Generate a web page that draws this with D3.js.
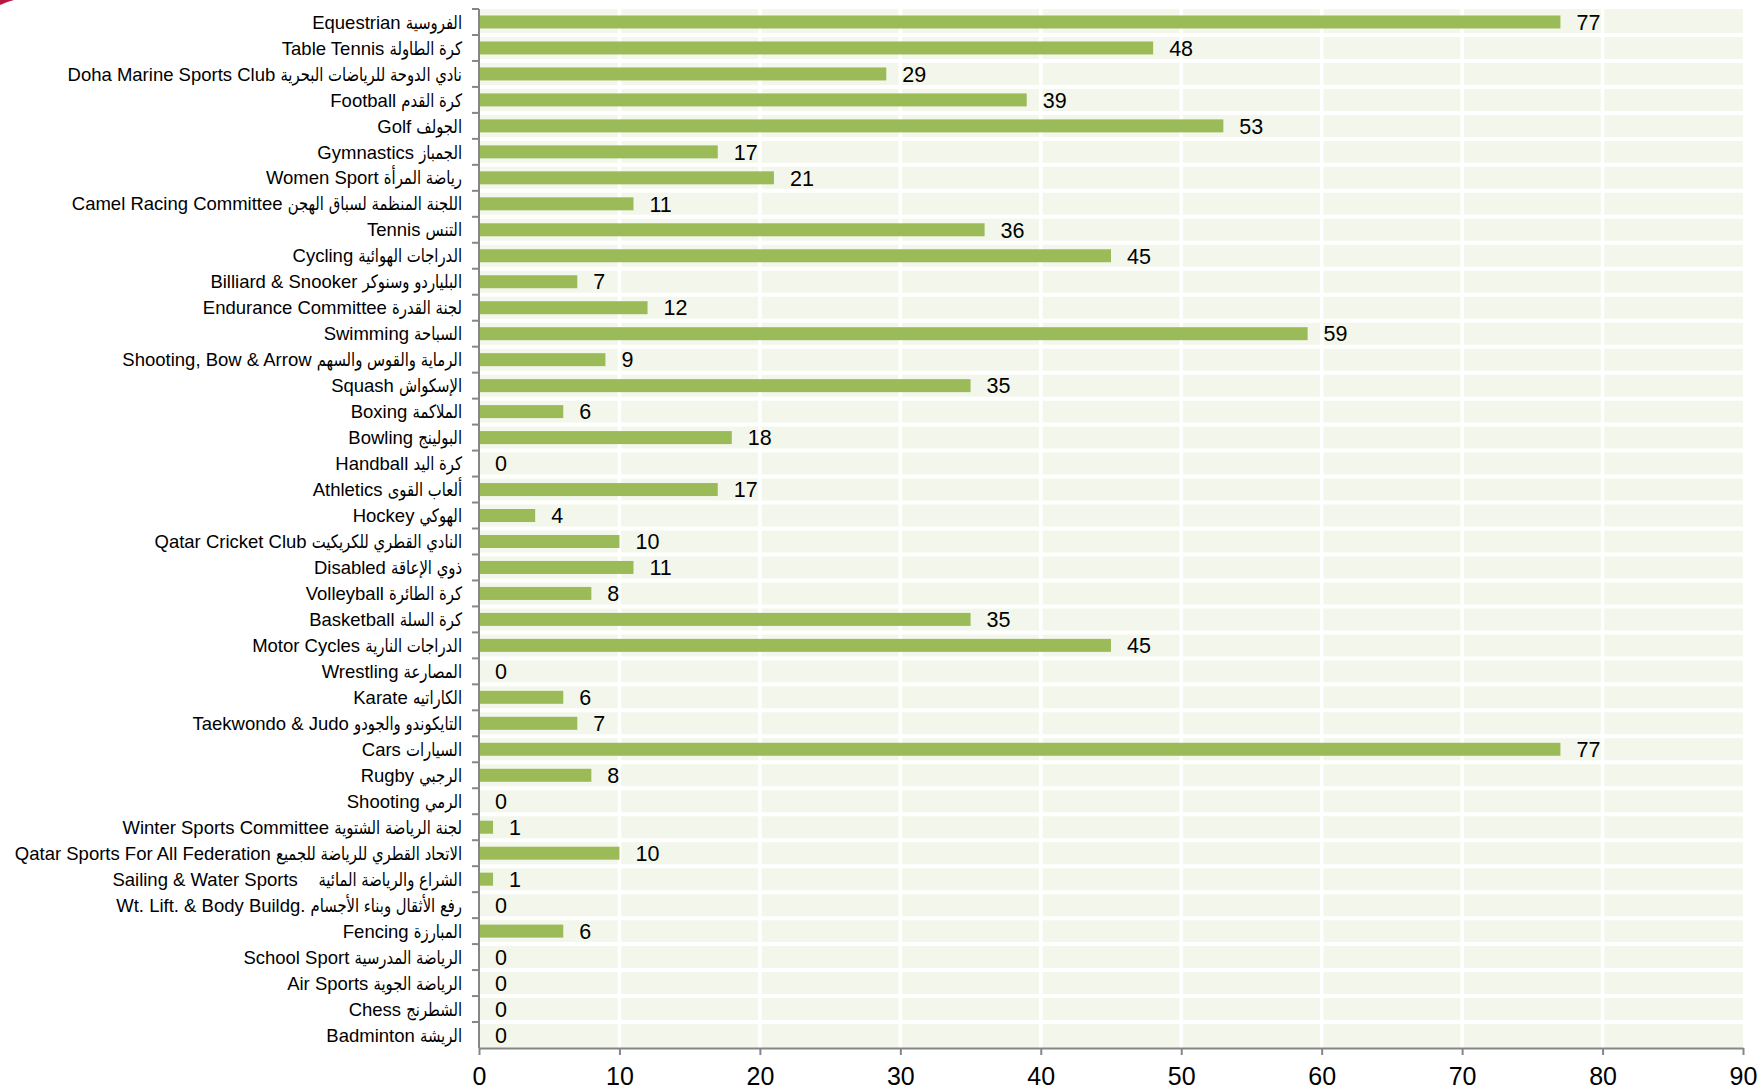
<!DOCTYPE html>
<html>
<head>
<meta charset="utf-8">
<script src="https://cdn.jsdelivr.net/npm/d3@7/dist/d3.min.js"></script>
<style>
  html, body { margin: 0; padding: 0; background: #ffffff; }
  svg { display: block; }
  text { font-family: "Liberation Sans", Arial, "DejaVu Sans", sans-serif; fill: #000; }
</style>
</head>
<body>
<svg id="chart" width="1762" height="1090"></svg>
<script>
const englishNames = [
  "Equestrian", "Table Tennis", "Doha Marine Sports Club", "Football", "Golf",
  "Gymnastics", "Women Sport", "Camel Racing Committee", "Tennis", "Cycling",
  "Billiard & Snooker", "Endurance Committee", "Swimming", "Shooting, Bow & Arrow", "Squash",
  "Boxing", "Bowling", "Handball", "Athletics", "Hockey",
  "Qatar Cricket Club", "Disabled", "Volleyball", "Basketball", "Motor Cycles",
  "Wrestling", "Karate", "Taekwondo & Judo", "Cars", "Rugby",
  "Shooting", "Winter Sports Committee", "Qatar Sports For All Federation", "Sailing & Water Sports   ", "Wt. Lift. & Body Buildg.",
  "Fencing", "School Sport", "Air Sports", "Chess", "Badminton"
];
const arabicNames = [
  "الفروسية", "كرة الطاولة", "نادي الدوحة للرياضات البحرية", "كرة القدم", "الجولف",
  "الجمباز", "رياضة المرأة", "اللجنة المنظمة لسباق الهجن", "التنس", "الدراجات الهوائية",
  "البلياردو وسنوكر", "لجنة القدرة", "السباحة", "الرماية والقوس والسهم", "الإسكواش",
  "الملاكمة", "البولينج", "كرة اليد", "ألعاب القوى", "الهوكي",
  "النادي القطري للكريكيت", "ذوي الإعاقة", "كرة الطائرة", "كرة السلة", "الدراجات النارية",
  "المصارعة", "الكاراتيه", "التايكوندو والجودو", "السيارات", "الرجبي",
  "الرمي", "لجنة الرياضة الشتوية", "الاتحاد القطري للرياضة للجميع", "الشراع والرياضة المائية", "رفع الأثقال وبناء الأجسام",
  "المبارزة", "الرياضة المدرسية", "الرياضة الجوية", "الشطرنج", "الريشة"
];
const values = [
  77, 48, 29, 39, 53,
  17, 21, 11, 36, 45,
  7, 12, 59, 9, 35,
  6, 18, 0, 17, 4,
  10, 11, 8, 35, 45,
  0, 6, 7, 77, 8,
  0, 1, 10, 1, 0,
  6, 0, 0, 0, 0
];
const xTicks = [0, 10, 20, 30, 40, 50, 60, 70, 80, 90];

const data = englishNames.map((e, i) => ({ id: i, en: e, ar: arabicNames[i], value: values[i] }));

const plotLeft = 479, plotRight = 1743, plotTop = 9, plotBottom = 1048;
const svg = d3.select("#chart");

const x = d3.scaleLinear().domain([0, 90]).range([plotLeft, plotRight]);
const y = d3.scaleBand().domain(data.map(d => d.id)).range([plotTop, plotBottom]).padding(0);
const bw = y.bandwidth();

// decorative red corner
svg.append("path")
  .attr("d", "M0,0 L14,0 Q6,2 0,5 Z")
  .attr("fill", "#b8173f");

// plot background
svg.append("rect")
  .attr("x", plotLeft).attr("y", plotTop)
  .attr("width", plotRight - plotLeft).attr("height", plotBottom - plotTop)
  .attr("fill", "#f3f7eb");

// vertical white gridlines
svg.append("g").selectAll("line")
  .data(xTicks.filter(t => t > 0 && t < 90))
  .join("line")
  .attr("x1", d => x(d)).attr("x2", d => x(d))
  .attr("y1", plotTop).attr("y2", plotBottom)
  .attr("stroke", "#ffffff").attr("stroke-width", 3.5);

// horizontal white lines at category boundaries
svg.append("g").selectAll("line")
  .data(data.slice(1))
  .join("line")
  .attr("x1", plotLeft).attr("x2", plotRight)
  .attr("y1", d => y(d.id)).attr("y2", d => y(d.id))
  .attr("stroke", "#ffffff").attr("stroke-width", 4);

// bars
const barH = 13;
svg.append("g").selectAll("rect")
  .data(data.filter(d => d.value > 0))
  .join("rect")
  .attr("x", x(0))
  .attr("y", d => y(d.id) + bw / 2 - barH / 2)
  .attr("width", d => x(d.value) - x(0))
  .attr("height", barH)
  .attr("fill", "#9bbb59");

// value labels
svg.append("g").selectAll("text")
  .data(data)
  .join("text")
  .attr("x", d => x(d.value) + 16)
  .attr("y", d => y(d.id) + bw / 2)
  .attr("dy", "0.36em")
  .style("font-size", "21.5px")
  .text(d => d.value);

// category labels: Arabic part (condensed) on the right, English part to its left
const labelX = plotLeft - 17;
const arScale = 0.80;
const labelG = svg.append("g");
data.forEach(d => {
  const yc = y(d.id) + bw / 2;
  const ar = labelG.append("text")
    .attr("transform", `translate(${labelX},${yc}) scale(${arScale},1)`)
    .attr("text-anchor", "end")
    .attr("dy", "0.36em")
    .style("font-size", "18.5px")
    .style("font-family", "'DejaVu Sans', sans-serif")
    .text(d.ar);
  const w = ar.node().getComputedTextLength() * arScale;
  labelG.append("text")
    .attr("x", labelX - w)
    .attr("y", yc)
    .attr("dy", "0.36em")
    .attr("text-anchor", "end")
    .style("font-size", "18.5px")
    .style("white-space", "pre")
    .text(d.en + " ");
});

// y axis line and ticks at category boundaries
const axisColor = "#868686";
svg.append("line")
  .attr("x1", plotLeft).attr("x2", plotLeft)
  .attr("y1", plotTop).attr("y2", plotBottom)
  .attr("stroke", axisColor).attr("stroke-width", 2);
svg.append("g").selectAll("line")
  .data(data)
  .join("line")
  .attr("x1", plotLeft - 7).attr("x2", plotLeft)
  .attr("y1", d => y(d.id)).attr("y2", d => y(d.id))
  .attr("stroke", axisColor).attr("stroke-width", 2);

// x axis
const xAxis = d3.axisBottom(x).tickValues(xTicks).tickSize(7).tickSizeOuter(0).tickPadding(11.8);
const gx = svg.append("g").attr("transform", `translate(0,${plotBottom})`).call(xAxis);
gx.select(".domain").attr("stroke", axisColor).attr("stroke-width", 2);
gx.selectAll(".tick line").attr("stroke", axisColor).attr("stroke-width", 2);
gx.selectAll(".tick text")
  .style("font-size", "25px")
  .style("font-family", "'Liberation Sans', Arial, sans-serif")
  .attr("fill", "#000");
</script>
</body>
</html>
